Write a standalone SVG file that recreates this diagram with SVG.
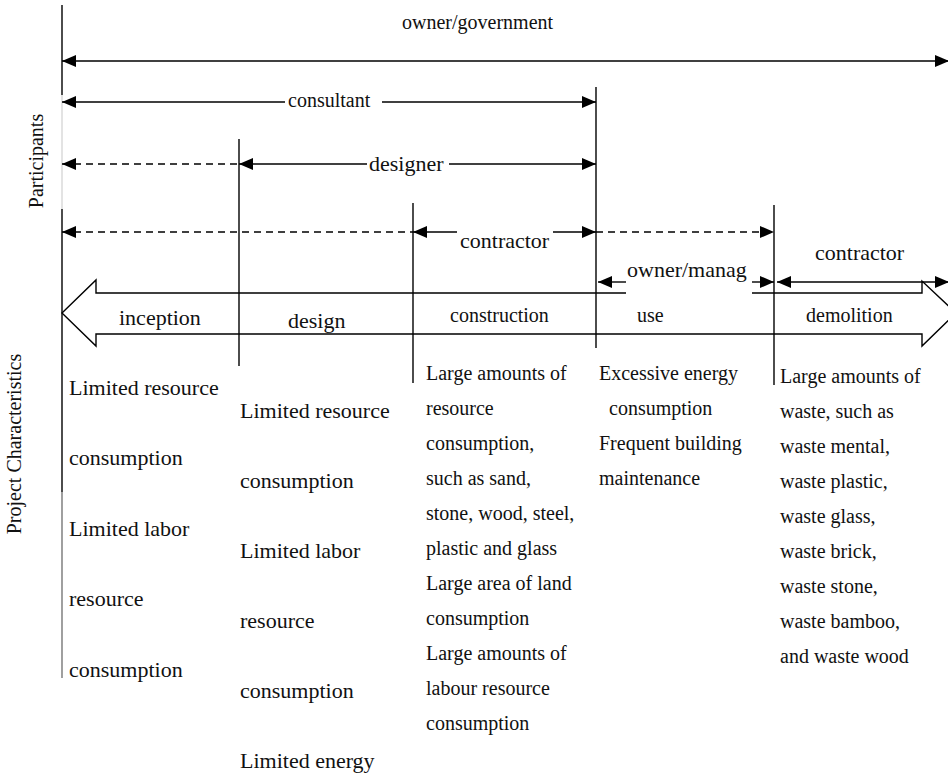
<svg xmlns="http://www.w3.org/2000/svg" width="948" height="774" viewBox="0 0 948 774">
  <defs>
    <!-- filled arrowhead, tip at the reference point -->
    <marker id="head" markerUnits="userSpaceOnUse" viewBox="0 0 14 12" markerWidth="14" markerHeight="12" refX="14" refY="6" orient="auto-start-reverse">
      <path d="M0,0 L14,6 L0,12 z" fill="#000"/>
    </marker>
  </defs>
  <style>
    text { font-family: "Liberation Serif", "Times New Roman", serif; fill: #111; }
    .t20 { font-size: 20px; }
    .t22 { font-size: 22px; }
    .ln { stroke: #000; stroke-width: 1.4; fill: none; }
    .dash { stroke-dasharray: 7 5; }
    .both { marker-start: url(#head); marker-end: url(#head); }
    .st { marker-start: url(#head); }
    .en { marker-end: url(#head); }
  </style>
  <rect width="948" height="774" fill="#fff"/>

  <!-- axis labels -->
  <g id="axis-labels">
    <text class="t20" text-anchor="middle" transform="translate(43,161) rotate(-90)">Participants</text>
    <text class="t20" text-anchor="middle" transform="translate(21,444) rotate(-90)">Project Characteristics</text>
  </g>

  <!-- phase boundaries -->
  <g id="boundaries">
    <line class="ln" x1="62" y1="5" x2="62" y2="95"/>
    <line x1="62" y1="95" x2="62" y2="209" stroke="#d0d0d0" stroke-width="1.2"/>
    <line class="ln" x1="62" y1="209" x2="62" y2="492"/>
    <line x1="62" y1="492" x2="62" y2="678" stroke="#777" stroke-width="1.4"/>
    <line class="ln" x1="239" y1="139" x2="239" y2="366"/>
    <line class="ln" x1="413" y1="203" x2="413" y2="383"/>
    <line class="ln" x1="596" y1="87" x2="596" y2="348"/>
    <line class="ln" x1="774" y1="205" x2="774" y2="385"/>
  </g>

  <!-- life-cycle arrow -->
  <g id="lifecycle">
    <path class="ln" d="M626,293 H96 V280 L62,313 L96,346 V334 H922 V346 L956,313 L922,281 V293 H752"/>
    <text class="t22" x="119" y="325">inception</text>
    <text class="t22" x="288" y="328">design</text>
    <text class="t20" x="450" y="322">construction</text>
    <text class="t20" x="637" y="322">use</text>
    <text class="t20" x="806" y="322">demolition</text>
  </g>

  <!-- participant spans -->
  <g id="connectors">
    <line class="ln both" x1="62" y1="61" x2="949" y2="61"/>
    <line class="ln st" x1="62" y1="102" x2="285" y2="102"/>
    <line class="ln en" x1="382" y1="102" x2="596" y2="102"/>
    <line class="ln dash st" x1="62" y1="164" x2="239" y2="164"/>
    <line class="ln st" x1="239" y1="164" x2="367" y2="164"/>
    <line class="ln en" x1="449" y1="164" x2="596" y2="164"/>
    <line class="ln dash st" x1="62" y1="232" x2="413" y2="232"/>
    <line class="ln st" x1="413" y1="232" x2="457" y2="232"/>
    <line class="ln en" x1="553" y1="232" x2="596" y2="232"/>
    <line class="ln dash en" x1="596" y1="232" x2="774" y2="232"/>
    <line class="ln st" x1="598" y1="282" x2="626" y2="282"/>
    <line class="ln en" x1="752" y1="282" x2="774" y2="282"/>
    <line class="ln both" x1="777" y1="282" x2="949" y2="282" stroke-width="2"/>
  </g>

  <g id="participants">
    <text class="t20" x="402" y="29">owner/government</text>
    <text class="t20" x="288" y="107">consultant</text>
    <text class="t22" x="369" y="171">designer</text>
    <text class="t22" x="460" y="248">contractor</text>
    <text class="t22" x="627" y="277">owner/manag</text>
    <text class="t22" x="815" y="260">contractor</text>
  </g>

  <!-- characteristics per phase -->
  <g id="inception-notes">
    <text class="t22" x="69" y="395">Limited resource</text>
    <text class="t22" x="69" y="465">consumption</text>
    <text class="t22" x="69" y="536">Limited labor</text>
    <text class="t22" x="69" y="606">resource</text>
    <text class="t22" x="69" y="677">consumption</text>
  </g>
  <g id="design-notes">
    <text class="t22" x="240" y="418">Limited resource</text>
    <text class="t22" x="240" y="488">consumption</text>
    <text class="t22" x="240" y="558">Limited labor</text>
    <text class="t22" x="240" y="628">resource</text>
    <text class="t22" x="240" y="698">consumption</text>
    <text class="t22" x="240" y="768">Limited energy</text>
  </g>
  <g id="construction-notes">
    <text class="t20" x="426" y="380">Large amounts of</text>
    <text class="t20" x="426" y="415">resource</text>
    <text class="t20" x="426" y="450">consumption,</text>
    <text class="t20" x="426" y="485">such as sand,</text>
    <text class="t20" x="426" y="520">stone, wood, steel,</text>
    <text class="t20" x="426" y="555">plastic and glass</text>
    <text class="t20" x="426" y="590">Large area of land</text>
    <text class="t20" x="426" y="625">consumption</text>
    <text class="t20" x="426" y="660">Large amounts of</text>
    <text class="t20" x="426" y="695">labour resource</text>
    <text class="t20" x="426" y="730">consumption</text>
  </g>
  <g id="use-notes">
    <text class="t20" x="599" y="380">Excessive energy</text>
    <text class="t20" x="609" y="415">consumption</text>
    <text class="t20" x="599" y="450">Frequent building</text>
    <text class="t20" x="599" y="485">maintenance</text>
  </g>
  <g id="demolition-notes">
    <text class="t20" x="780" y="383">Large amounts of</text>
    <text class="t20" x="780" y="418">waste, such as</text>
    <text class="t20" x="780" y="453">waste mental,</text>
    <text class="t20" x="780" y="488">waste plastic,</text>
    <text class="t20" x="780" y="523">waste glass,</text>
    <text class="t20" x="780" y="558">waste brick,</text>
    <text class="t20" x="780" y="593">waste stone,</text>
    <text class="t20" x="780" y="628">waste bamboo,</text>
    <text class="t20" x="780" y="663">and waste wood</text>
  </g>
</svg>
